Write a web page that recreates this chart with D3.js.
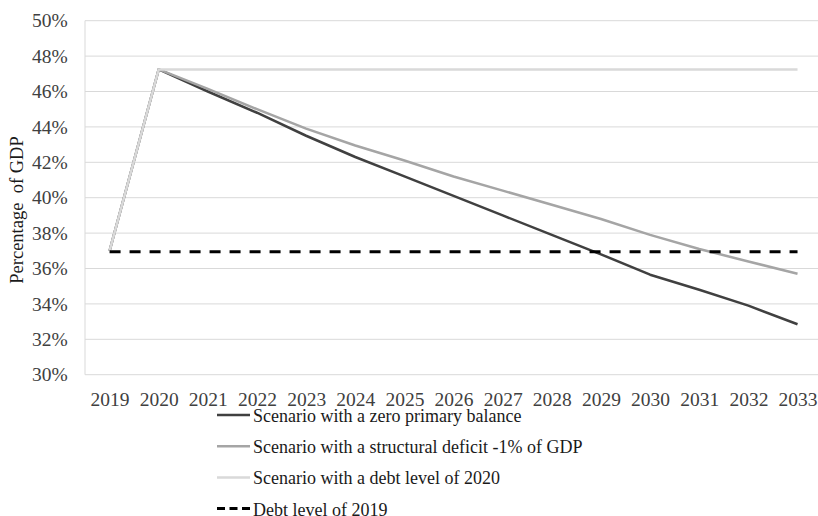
<!DOCTYPE html>
<html>
<head>
<meta charset="utf-8">
<script src="https://cdn.jsdelivr.net/npm/d3@7"></script>
<style>
  html, body { margin: 0; padding: 0; background: #fff; }
  svg { display: block; }
  text { font-family: "Liberation Serif", "Times New Roman", serif; }
</style>
</head>
<body>
<svg id="chart" width="818" height="516"></svg>
<script>
// Debt-to-GDP projections, 2019–2033 (percent of GDP)
const years = ["2019","2020","2021","2022","2023","2024","2025","2026","2027","2028","2029","2030","2031","2032","2033"];
const zeroPrimaryBalance = [37.0, 47.25, 46.0, 44.8, 43.5, 42.3, 41.2, 40.1, 39.0, 37.9, 36.8, 35.65, 34.8, 33.9, 32.85];
const structuralDeficit  = [37.0, 47.25, 46.15, 45.0, 43.9, 42.95, 42.1, 41.2, 40.4, 39.6, 38.8, 37.9, 37.1, 36.4, 35.7];
const debtLevel2020      = [37.0, 47.25, 47.25, 47.25, 47.25, 47.25, 47.25, 47.25, 47.25, 47.25, 47.25, 47.25, 47.25, 47.25, 47.25];
const debtLevel2019      = [36.95, 36.95, 36.95, 36.95, 36.95, 36.95, 36.95, 36.95, 36.95, 36.95, 36.95, 36.95, 36.95, 36.95, 36.95];
const yTicks = [30, 32, 34, 36, 38, 40, 42, 44, 46, 48, 50];
const seriesNames = [
  "Scenario with a zero primary balance",
  "Scenario with a structural deficit -1% of GDP",
  "Scenario with a debt level of 2020",
  "Debt level of 2019"
];

const series = [
  { name: seriesNames[0], values: zeroPrimaryBalance, color: "#404040", width: 2.5, dash: null },
  { name: seriesNames[1], values: structuralDeficit,  color: "#a5a5a5", width: 2.5, dash: null },
  { name: seriesNames[2], values: debtLevel2020,      color: "#d9d9d9", width: 2.5, dash: null },
  { name: seriesNames[3], values: debtLevel2019,      color: "#000000", width: 3,   dash: "11,9" }
];

const svg = d3.select("#chart");
const plotLeft = 85, plotTop = 20.7, plotBottom = 374.7, band = 49.14;
const axisFont = 19.5;

const x = d3.scalePoint().domain(years).range([plotLeft + band / 2, plotLeft + band * 14.5]);
const y = d3.scaleLinear().domain([30, 50]).range([plotBottom, plotTop]);

// Horizontal gridlines
svg.append("g").selectAll("line").data(yTicks).join("line")
  .attr("x1", plotLeft).attr("x2", plotLeft + band * 15)
  .attr("y1", d => y(d)).attr("y2", d => y(d))
  .attr("stroke", "#d9d9d9").attr("stroke-width", 1);

// Vertical axis line
svg.append("line")
  .attr("x1", plotLeft).attr("x2", plotLeft).attr("y1", plotTop).attr("y2", plotBottom)
  .attr("stroke", "#d9d9d9").attr("stroke-width", 1);

// Y tick labels
const yAxis = d3.axisLeft(y).tickValues(yTicks).tickFormat(d => d + "%").tickSize(0).tickPadding(17.3);
const gy = svg.append("g").attr("transform", `translate(${plotLeft},0)`).call(yAxis);
gy.select(".domain").remove();
gy.selectAll("text").attr("font-size", axisFont).attr("fill", "#404040")
  .style("font-family", "'Liberation Serif', serif");

// X tick labels
const xAxis = d3.axisBottom(x).tickSize(0).tickPadding(17);
const gx = svg.append("g").attr("transform", `translate(0,${plotBottom})`).call(xAxis);
gx.select(".domain").remove();
gx.selectAll("text").attr("font-size", axisFont).attr("fill", "#404040")
  .style("font-family", "'Liberation Serif', serif");

// Y axis title
svg.append("text")
  .attr("transform", `translate(23,210) rotate(-90)`)
  .attr("text-anchor", "middle")
  .attr("font-size", 18.5).attr("fill", "#1a1a1a")
  .style("white-space", "pre")
  .text("Percentage  of GDP");

// Lines
const line = d3.line().x((d, i) => x(years[i])).y(d => y(d));
svg.append("g").selectAll("path").data(series).join("path")
  .attr("d", d => line(d.values))
  .attr("fill", "none")
  .attr("stroke", d => d.color)
  .attr("stroke-width", d => d.width)
  .attr("stroke-dasharray", d => d.dash)
  .attr("stroke-linejoin", "round");

// Legend
const legend = svg.append("g").selectAll("g").data(series).join("g")
  .attr("transform", (d, i) => `translate(217,${415 + i * 31.2})`);
legend.append("line")
  .attr("x1", 0).attr("x2", 33).attr("y1", 0).attr("y2", 0)
  .attr("stroke", d => d.color).attr("stroke-width", d => d.width)
  .attr("stroke-dasharray", d => d.dash ? "8,4.5" : null);
legend.append("text")
  .attr("x", 36).attr("y", 7)
  .attr("font-size", 18).attr("fill", "#1a1a1a")
  .text(d => d.name);
</script>
</body>
</html>
